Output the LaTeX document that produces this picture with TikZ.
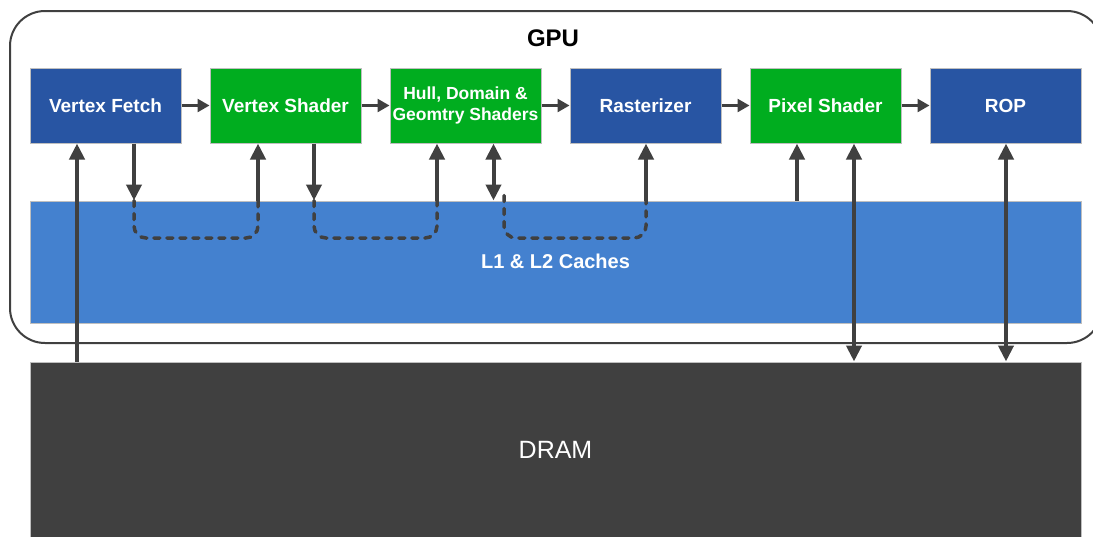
\documentclass[tikz,border=0pt]{standalone}
\usepackage{fontspec}
\setmainfont{Liberation Sans}
\usetikzlibrary{arrows.meta}
\definecolor{stageblue}{HTML}{2855A3}
\definecolor{stagegreen}{HTML}{00AD1F}
\definecolor{cacheblue}{HTML}{4481CF}
\definecolor{darkgrey}{HTML}{404040}
\definecolor{rim}{HTML}{BFBFBF}

\begin{document}
\begin{tikzpicture}[x=1pt,y=-1pt,
  stage/.style={draw=rim, line width=1pt, minimum width=151pt, minimum height=75pt,
    inner sep=0pt, text=white, align=center, font=\bfseries\fontsize{19}{21}\selectfont},
  bluestage/.style={stage, fill=stageblue},
  greenstage/.style={stage, fill=stagegreen},
  pipe/.style={draw=darkgrey, line width=2.5pt, -{Triangle[width=13pt,length=12pt]}},
  busup/.style={draw=darkgrey, line width=4pt, -{Triangle[width=15pt,length=16pt]}},
  busboth/.style={draw=darkgrey, line width=4pt, {Triangle[width=15pt,length=16pt]}-{Triangle[width=15pt,length=16pt]}},
  reuse/.style={draw=darkgrey, line width=3.5pt, dash pattern=on 6pt off 7pt, line cap=round, rounded corners=12pt}
]
\useasboundingbox (0,0) rectangle (1093,536);
\fill[white] (0,0) rectangle (1093,536);

% GPU outline
\draw[darkgrey, line width=2pt, rounded corners=35pt] (10,11) rectangle (1102,343);
\node[font=\bfseries\fontsize{24}{26}\selectfont] (gpu) at (553,38.5) {GPU};

% memory blocks
\node[draw=rim, line width=1pt, fill=cacheblue, minimum width=1051pt, minimum height=122pt,
  inner sep=0pt] (cache) at (555.5,262) {};
\node[text=white, font=\bfseries\fontsize{20}{22}\selectfont] (cachelbl) at (555.5,261) {L1 \& L2 Caches};
\node[draw=rim, line width=1pt, fill=darkgrey, minimum width=1051pt, minimum height=176pt,
  inner sep=0pt, text=white, font=\fontsize{25}{27}\selectfont] (dram) at (555.5,450) {DRAM};

% pipeline stages
\node[bluestage]  (vf)   at (105.5,105.5) {Vertex Fetch};
\node[greenstage] (vs)   at (285.5,105.5) {Vertex Shader};
\node[greenstage, font=\bfseries\fontsize{17.5}{21.5}\selectfont] (hull) at (465.5,105.5) {Hull, Domain \&\\Geomtry Shaders};
\node[bluestage]  (rast) at (645.5,105.5) {Rasterizer};
\node[greenstage] (ps)   at (825.5,105.5) {Pixel Shader};
\node[bluestage]  (rop)  at (1005.5,105.5) {ROP};

% stage to stage flow
\draw[pipe] (vf.east) -- (vs.west);
\draw[pipe] (vs.east) -- (hull.west);
\draw[pipe] (hull.east) -- (rast.west);
\draw[pipe] (rast.east) -- (ps.west);
\draw[pipe] (ps.east) -- (rop.west);

% memory traffic
\draw[busup] (dram.north -| 77,0) -- (vf.south -| 77,0);

\draw[busup] (vf.south -| 134,0) -- (cache.north -| 134,0);
\draw[reuse] (cache.north -| 134,0) -- (134,238) -- (258,238) -- (cache.north -| 258,0);
\draw[busup] (cache.north -| 258,0) -- (vs.south -| 258,0);

\draw[busup] (vs.south -| 314,0) -- (cache.north -| 314,0);
\draw[reuse] (cache.north -| 314,0) -- (314,238) -- (437,238) -- (cache.north -| 437,0);
\draw[busup] (cache.north -| 437,0) -- (hull.south -| 437,0);

\draw[busboth] (hull.south -| 493.5,0) -- (cache.north -| 493.5,0);
\draw[reuse] ([yshift=5pt]cache.north -| 504,0) -- (504,238) -- (646,238) -- (cache.north -| 646,0);
\draw[busup] (cache.north -| 646,0) -- (rast.south -| 646,0);

\draw[busup] (cache.north -| 797,0) -- (ps.south -| 797,0);
\draw[busboth] (ps.south -| 854,0) -- (dram.north -| 854,0);
\draw[busboth] (rop.south -| 1006,0) -- (dram.north -| 1006,0);
\end{tikzpicture}
\end{document}
